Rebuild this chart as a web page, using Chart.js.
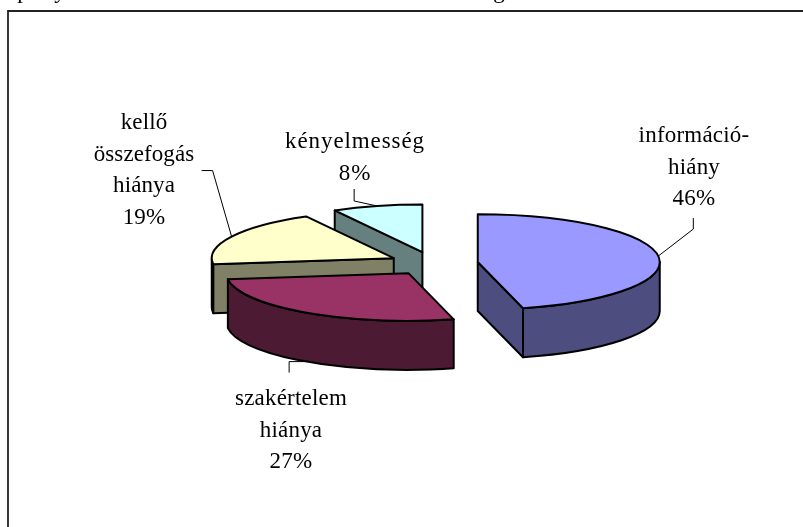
<!DOCTYPE html>
<html><head><meta charset="utf-8">
<style>html,body{margin:0;padding:0;background:#fff}canvas{display:block}</style>
<script src="https://cdn.jsdelivr.net/npm/chart.js@4"></script>
</head><body>
<canvas id="c" width="803" height="527"></canvas>
<script>
const categories = ['információ-hiány', 'szakértelem hiánya', 'kellő összefogás hiánya', 'kényelmesség'];
const shares = [46, 27, 19, 8];
const labelLines = [['információ-', 'hiány'], ['szakértelem', 'hiánya'], ['kellő', 'összefogás', 'hiánya'], ['kényelmesség']];
const faceColors = ['#9999FF', '#993366', '#FFFFCC', '#CCFFFF'];
const wallColors = ['#4D4D80', '#4D1A33', '#808066', '#668080'];
const croppedHeadingGlyphs = ['p', 'y', 'g'];

const SQUASH = 0.262, DEPTH = 49, EXPLODE = 44.6, FONT = '23px "Liberation Serif"', LINE = 31.5;
const headingX = [23, 60, 499];
// label anchor: centre x, first baseline y; leader: bend offsets from the slice rim anchor
const labelPos = [
  {x: 694, y: 142, spacing: '0.2px', leader: [[35, -27], [35, -38]], rimDepth: 0},
  {x: 291, y: 405, spacing: '0.2px', leader: [[-17, 0], [-17, 11]], rimDepth: 1},
  {x: 144, y: 129, spacing: '0.1px', leader: [[-19, -66], [-30, -66]], rimDepth: 0},
  {x: 355, y: 148, spacing: '0.9px', leader: [[-23, -5], [-23, -17]], rimDepth: 0}
];

const pie3d = {
  id: 'pie3d',
  beforeDatasetDraw(chart, args) {
    const ctx = chart.ctx, arcs = chart.getDatasetMeta(args.index).data;
    const geom = a => {
      const mid = (a.startAngle + a.endAngle) / 2;
      return {mid, R: a.outerRadius, cx: a.x + Math.cos(mid) * EXPLODE,
        cy: a.y + Math.sin(mid) * EXPLODE * SQUASH};
    };
    ctx.save();
    ctx.lineWidth = 2; ctx.strokeStyle = '#000'; ctx.lineJoin = 'round';
    for (let i = arcs.length - 1; i >= 0; i--) {
      const a = arcs[i], g = geom(a), s = a.startAngle, e = a.endAngle;
      const pt = t => [g.cx + g.R * Math.cos(t), g.cy + g.R * SQUASH * Math.sin(t)];
      ctx.fillStyle = wallColors[i];
      const radial = t => {
        const p = pt(t);
        ctx.beginPath(); ctx.moveTo(g.cx, g.cy); ctx.lineTo(p[0], p[1]);
        ctx.lineTo(p[0], p[1] + DEPTH); ctx.lineTo(g.cx, g.cy + DEPTH); ctx.closePath();
        ctx.fill(); ctx.stroke();
      };
      if (-Math.cos(s) > 0.001) radial(s);
      if (Math.cos(e) > 0.001) radial(e);
      // curved wall: the part of the rim that faces the viewer (sin > 0)
      const l = Math.max(s, 0), r = Math.min(e, Math.PI);
      if (r > l) {
        ctx.beginPath();
        ctx.ellipse(g.cx, g.cy, g.R, g.R * SQUASH, 0, l, r);
        ctx.ellipse(g.cx, g.cy + DEPTH, g.R, g.R * SQUASH, 0, r, l, true);
        ctx.closePath(); ctx.fill(); ctx.stroke();
      }
      // face: drawn by the library's own arc element, flattened
      ctx.save();
      ctx.translate(g.cx - a.x, g.cy);
      ctx.scale(1, SQUASH);
      ctx.translate(0, -a.y);
      a.draw(ctx);
      ctx.restore();
      // face outline at an even pen width
      ctx.beginPath();
      ctx.moveTo(g.cx, g.cy);
      ctx.ellipse(g.cx, g.cy, g.R, g.R * SQUASH, 0, s, e);
      ctx.closePath(); ctx.stroke();
    }
    // labels and leaders
    ctx.fillStyle = '#000'; ctx.font = FONT; ctx.textAlign = 'center'; ctx.textBaseline = 'alphabetic';
    arcs.forEach((a, i) => {
      const g = geom(a), lp = labelPos[i];
      const x0 = g.cx + g.R * Math.cos(g.mid);
      const y0 = g.cy + g.R * SQUASH * Math.sin(g.mid) + lp.rimDepth * DEPTH;
      ctx.lineWidth = 1; ctx.beginPath(); ctx.moveTo(x0, y0);
      lp.leader.forEach(o => ctx.lineTo(x0 + o[0], y0 + o[1]));
      ctx.stroke();
      ctx.letterSpacing = lp.spacing;
      const lines = labelLines[i].concat(shares[i] + '%');
      lines.forEach((t, k) => ctx.fillText(t, lp.x, lp.y + k * LINE));
    });
    ctx.restore();
    return false;
  },
  beforeDraw(chart) {
    const ctx = chart.ctx;
    ctx.save();
    ctx.fillStyle = '#fff'; ctx.fillRect(0, 0, chart.width, chart.height);
    ctx.strokeStyle = '#222'; ctx.lineWidth = 1.8;
    ctx.beginPath(); ctx.moveTo(8, chart.height); ctx.lineTo(8, 11); ctx.lineTo(chart.width, 11); ctx.stroke();
    // the heading above the frame is cropped by the picture's top edge
    ctx.fillStyle = '#000'; ctx.font = FONT; ctx.textAlign = 'center'; ctx.textBaseline = 'alphabetic';
    croppedHeadingGlyphs.forEach((t, i) => ctx.fillText(t, headingX[i], -2));
    ctx.restore();
  }
};

new Chart(document.getElementById('c'), {
  type: 'pie',
  data: {labels: categories, datasets: [{data: shares, backgroundColor: faceColors, borderWidth: 0, radius: 182}]},
  options: {
    responsive: false, animation: false,
    layout: {padding: {left: 64}},
    plugins: {legend: {display: false}, tooltip: {enabled: false}}
  },
  plugins: [pie3d]
});
</script>
</body></html>
